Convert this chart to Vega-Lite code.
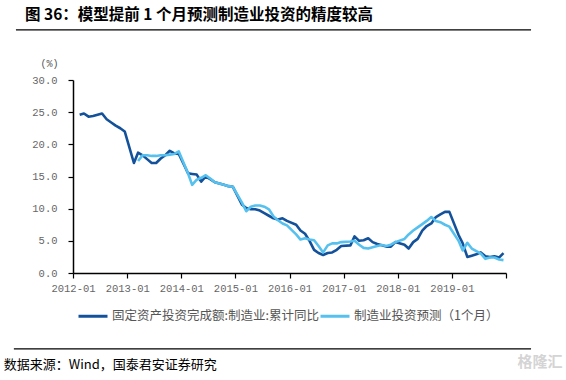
{
  "$schema": "https://vega.github.io/schema/vega-lite/v6.json",
  "width": 433,
  "height": 193,
  "autosize": {"type": "none"},
  "padding": {"left": 73, "top": 80, "right": 60, "bottom": 107},
  "background": "white",
  "title": {
    "text": "图 36：模型提前 1 个月预测制造业投资的精度较高",
    "anchor": "start",
    "frame": "group",
    "dx": -48,
    "offset": 6,
    "font": "Noto Sans CJK SC",
    "fontSize": 15.5,
    "fontWeight": "bold",
    "color": "#000000"
  },
  "config": {"view": {"stroke": null}},
  "resolve": {"axis": {"x": "independent", "y": "independent"}},
  "datasets": {
    "fai": [
      {"month": "2012-02-15", "series": "固定资产投资完成额:制造业:累计同比", "value": 24.6},
      {"month": "2012-03-15", "series": "固定资产投资完成额:制造业:累计同比", "value": 24.8},
      {"month": "2012-04-15", "series": "固定资产投资完成额:制造业:累计同比", "value": 24.3},
      {"month": "2012-05-15", "series": "固定资产投资完成额:制造业:累计同比", "value": 24.4},
      {"month": "2012-06-15", "series": "固定资产投资完成额:制造业:累计同比", "value": 24.6},
      {"month": "2012-07-15", "series": "固定资产投资完成额:制造业:累计同比", "value": 24.8},
      {"month": "2012-08-15", "series": "固定资产投资完成额:制造业:累计同比", "value": 23.9},
      {"month": "2012-09-15", "series": "固定资产投资完成额:制造业:累计同比", "value": 23.4},
      {"month": "2012-10-15", "series": "固定资产投资完成额:制造业:累计同比", "value": 22.9},
      {"month": "2012-11-15", "series": "固定资产投资完成额:制造业:累计同比", "value": 22.5},
      {"month": "2012-12-15", "series": "固定资产投资完成额:制造业:累计同比", "value": 22.0},
      {"month": "2013-02-15", "series": "固定资产投资完成额:制造业:累计同比", "value": 17.1},
      {"month": "2013-03-15", "series": "固定资产投资完成额:制造业:累计同比", "value": 18.7},
      {"month": "2013-04-15", "series": "固定资产投资完成额:制造业:累计同比", "value": 18.3},
      {"month": "2013-05-15", "series": "固定资产投资完成额:制造业:累计同比", "value": 17.7},
      {"month": "2013-06-15", "series": "固定资产投资完成额:制造业:累计同比", "value": 17.1},
      {"month": "2013-07-15", "series": "固定资产投资完成额:制造业:累计同比", "value": 17.1},
      {"month": "2013-08-15", "series": "固定资产投资完成额:制造业:累计同比", "value": 17.8},
      {"month": "2013-09-15", "series": "固定资产投资完成额:制造业:累计同比", "value": 18.3},
      {"month": "2013-10-15", "series": "固定资产投资完成额:制造业:累计同比", "value": 19.0},
      {"month": "2013-11-15", "series": "固定资产投资完成额:制造业:累计同比", "value": 18.6},
      {"month": "2013-12-15", "series": "固定资产投资完成额:制造业:累计同比", "value": 18.5},
      {"month": "2014-02-15", "series": "固定资产投资完成额:制造业:累计同比", "value": 15.5},
      {"month": "2014-03-15", "series": "固定资产投资完成额:制造业:累计同比", "value": 15.4},
      {"month": "2014-04-15", "series": "固定资产投资完成额:制造业:累计同比", "value": 15.3},
      {"month": "2014-05-15", "series": "固定资产投资完成额:制造业:累计同比", "value": 14.2},
      {"month": "2014-06-15", "series": "固定资产投资完成额:制造业:累计同比", "value": 15.0},
      {"month": "2014-07-15", "series": "固定资产投资完成额:制造业:累计同比", "value": 14.6},
      {"month": "2014-08-15", "series": "固定资产投资完成额:制造业:累计同比", "value": 14.1},
      {"month": "2014-09-15", "series": "固定资产投资完成额:制造业:累计同比", "value": 13.9},
      {"month": "2014-10-15", "series": "固定资产投资完成额:制造业:累计同比", "value": 13.7},
      {"month": "2014-11-15", "series": "固定资产投资完成额:制造业:累计同比", "value": 13.5},
      {"month": "2014-12-15", "series": "固定资产投资完成额:制造业:累计同比", "value": 13.4},
      {"month": "2015-02-15", "series": "固定资产投资完成额:制造业:累计同比", "value": 10.6},
      {"month": "2015-03-15", "series": "固定资产投资完成额:制造业:累计同比", "value": 10.1},
      {"month": "2015-04-15", "series": "固定资产投资完成额:制造业:累计同比", "value": 9.9},
      {"month": "2015-05-15", "series": "固定资产投资完成额:制造业:累计同比", "value": 9.9},
      {"month": "2015-06-15", "series": "固定资产投资完成额:制造业:累计同比", "value": 9.7},
      {"month": "2015-07-15", "series": "固定资产投资完成额:制造业:累计同比", "value": 9.3},
      {"month": "2015-08-15", "series": "固定资产投资完成额:制造业:累计同比", "value": 8.9},
      {"month": "2015-09-15", "series": "固定资产投资完成额:制造业:累计同比", "value": 8.5},
      {"month": "2015-10-15", "series": "固定资产投资完成额:制造业:累计同比", "value": 8.3},
      {"month": "2015-11-15", "series": "固定资产投资完成额:制造业:累计同比", "value": 8.5},
      {"month": "2015-12-15", "series": "固定资产投资完成额:制造业:累计同比", "value": 8.1},
      {"month": "2016-02-15", "series": "固定资产投资完成额:制造业:累计同比", "value": 7.5},
      {"month": "2016-03-15", "series": "固定资产投资完成额:制造业:累计同比", "value": 6.6},
      {"month": "2016-04-15", "series": "固定资产投资完成额:制造业:累计同比", "value": 6.1},
      {"month": "2016-05-15", "series": "固定资产投资完成额:制造业:累计同比", "value": 5.0},
      {"month": "2016-06-15", "series": "固定资产投资完成额:制造业:累计同比", "value": 3.6},
      {"month": "2016-07-15", "series": "固定资产投资完成额:制造业:累计同比", "value": 3.1},
      {"month": "2016-08-15", "series": "固定资产投资完成额:制造业:累计同比", "value": 2.8},
      {"month": "2016-09-15", "series": "固定资产投资完成额:制造业:累计同比", "value": 3.1},
      {"month": "2016-10-15", "series": "固定资产投资完成额:制造业:累计同比", "value": 3.2},
      {"month": "2016-11-15", "series": "固定资产投资完成额:制造业:累计同比", "value": 3.6},
      {"month": "2016-12-15", "series": "固定资产投资完成额:制造业:累计同比", "value": 4.2},
      {"month": "2017-02-15", "series": "固定资产投资完成额:制造业:累计同比", "value": 4.3},
      {"month": "2017-03-15", "series": "固定资产投资完成额:制造业:累计同比", "value": 5.7},
      {"month": "2017-04-15", "series": "固定资产投资完成额:制造业:累计同比", "value": 5.0},
      {"month": "2017-05-15", "series": "固定资产投资完成额:制造业:累计同比", "value": 5.1},
      {"month": "2017-06-15", "series": "固定资产投资完成额:制造业:累计同比", "value": 5.4},
      {"month": "2017-07-15", "series": "固定资产投资完成额:制造业:累计同比", "value": 4.8},
      {"month": "2017-08-15", "series": "固定资产投资完成额:制造业:累计同比", "value": 4.5},
      {"month": "2017-09-15", "series": "固定资产投资完成额:制造业:累计同比", "value": 4.3},
      {"month": "2017-10-15", "series": "固定资产投资完成额:制造业:累计同比", "value": 4.1},
      {"month": "2017-11-15", "series": "固定资产投资完成额:制造业:累计同比", "value": 4.1},
      {"month": "2017-12-15", "series": "固定资产投资完成额:制造业:累计同比", "value": 4.8},
      {"month": "2018-02-15", "series": "固定资产投资完成额:制造业:累计同比", "value": 4.4},
      {"month": "2018-03-15", "series": "固定资产投资完成额:制造业:累计同比", "value": 3.8},
      {"month": "2018-04-15", "series": "固定资产投资完成额:制造业:累计同比", "value": 4.8},
      {"month": "2018-05-15", "series": "固定资产投资完成额:制造业:累计同比", "value": 5.3},
      {"month": "2018-06-15", "series": "固定资产投资完成额:制造业:累计同比", "value": 6.6},
      {"month": "2018-07-15", "series": "固定资产投资完成额:制造业:累计同比", "value": 7.3},
      {"month": "2018-08-15", "series": "固定资产投资完成额:制造业:累计同比", "value": 7.7},
      {"month": "2018-09-15", "series": "固定资产投资完成额:制造业:累计同比", "value": 8.7},
      {"month": "2018-10-15", "series": "固定资产投资完成额:制造业:累计同比", "value": 9.1},
      {"month": "2018-11-15", "series": "固定资产投资完成额:制造业:累计同比", "value": 9.5},
      {"month": "2018-12-15", "series": "固定资产投资完成额:制造业:累计同比", "value": 9.5},
      {"month": "2019-02-15", "series": "固定资产投资完成额:制造业:累计同比", "value": 5.9},
      {"month": "2019-03-15", "series": "固定资产投资完成额:制造业:累计同比", "value": 4.6},
      {"month": "2019-04-15", "series": "固定资产投资完成额:制造业:累计同比", "value": 2.5},
      {"month": "2019-05-15", "series": "固定资产投资完成额:制造业:累计同比", "value": 2.7},
      {"month": "2019-06-15", "series": "固定资产投资完成额:制造业:累计同比", "value": 2.9},
      {"month": "2019-07-15", "series": "固定资产投资完成额:制造业:累计同比", "value": 3.2},
      {"month": "2019-08-15", "series": "固定资产投资完成额:制造业:累计同比", "value": 2.6},
      {"month": "2019-09-15", "series": "固定资产投资完成额:制造业:累计同比", "value": 2.5},
      {"month": "2019-10-15", "series": "固定资产投资完成额:制造业:累计同比", "value": 2.6},
      {"month": "2019-11-15", "series": "固定资产投资完成额:制造业:累计同比", "value": 2.4},
      {"month": "2019-12-15", "series": "固定资产投资完成额:制造业:累计同比", "value": 3.1},
      {"month": "2013-03-15", "series": "制造业投资预测（1个月）", "value": 17.4},
      {"month": "2013-04-15", "series": "制造业投资预测（1个月）", "value": 18.3},
      {"month": "2013-05-15", "series": "制造业投资预测（1个月）", "value": 18.3},
      {"month": "2013-06-15", "series": "制造业投资预测（1个月）", "value": 18.2},
      {"month": "2013-07-15", "series": "制造业投资预测（1个月）", "value": 18.2},
      {"month": "2013-08-15", "series": "制造业投资预测（1个月）", "value": 18.3},
      {"month": "2013-09-15", "series": "制造业投资预测（1个月）", "value": 18.3},
      {"month": "2013-10-15", "series": "制造业投资预测（1个月）", "value": 18.4},
      {"month": "2013-11-15", "series": "制造业投资预测（1个月）", "value": 18.5},
      {"month": "2013-12-15", "series": "制造业投资预测（1个月）", "value": 18.9},
      {"month": "2014-02-15", "series": "制造业投资预测（1个月）", "value": 15.5},
      {"month": "2014-03-15", "series": "制造业投资预测（1个月）", "value": 13.7},
      {"month": "2014-04-15", "series": "制造业投资预测（1个月）", "value": 14.5},
      {"month": "2014-05-15", "series": "制造业投资预测（1个月）", "value": 14.8},
      {"month": "2014-06-15", "series": "制造业投资预测（1个月）", "value": 15.2},
      {"month": "2014-07-15", "series": "制造业投资预测（1个月）", "value": 14.7},
      {"month": "2014-08-15", "series": "制造业投资预测（1个月）", "value": 14.1},
      {"month": "2014-09-15", "series": "制造业投资预测（1个月）", "value": 13.9},
      {"month": "2014-10-15", "series": "制造业投资预测（1个月）", "value": 13.7},
      {"month": "2014-11-15", "series": "制造业投资预测（1个月）", "value": 13.5},
      {"month": "2014-12-15", "series": "制造业投资预测（1个月）", "value": 13.4},
      {"month": "2015-02-15", "series": "制造业投资预测（1个月）", "value": 10.9},
      {"month": "2015-03-15", "series": "制造业投资预测（1个月）", "value": 9.6},
      {"month": "2015-04-15", "series": "制造业投资预测（1个月）", "value": 10.3},
      {"month": "2015-05-15", "series": "制造业投资预测（1个月）", "value": 10.5},
      {"month": "2015-06-15", "series": "制造业投资预测（1个月）", "value": 10.5},
      {"month": "2015-07-15", "series": "制造业投资预测（1个月）", "value": 10.3},
      {"month": "2015-08-15", "series": "制造业投资预测（1个月）", "value": 9.9},
      {"month": "2015-09-15", "series": "制造业投资预测（1个月）", "value": 8.8},
      {"month": "2015-10-15", "series": "制造业投资预测（1个月）", "value": 8.2},
      {"month": "2015-11-15", "series": "制造业投资预测（1个月）", "value": 7.7},
      {"month": "2015-12-15", "series": "制造业投资预测（1个月）", "value": 7.4},
      {"month": "2016-02-15", "series": "制造业投资预测（1个月）", "value": 6.0},
      {"month": "2016-03-15", "series": "制造业投资预测（1个月）", "value": 5.2},
      {"month": "2016-04-15", "series": "制造业投资预测（1个月）", "value": 5.4},
      {"month": "2016-05-15", "series": "制造业投资预测（1个月）", "value": 5.2},
      {"month": "2016-06-15", "series": "制造业投资预测（1个月）", "value": 5.1},
      {"month": "2016-07-15", "series": "制造业投资预测（1个月）", "value": 4.2},
      {"month": "2016-08-15", "series": "制造业投资预测（1个月）", "value": 3.2},
      {"month": "2016-09-15", "series": "制造业投资预测（1个月）", "value": 4.3},
      {"month": "2016-10-15", "series": "制造业投资预测（1个月）", "value": 4.6},
      {"month": "2016-11-15", "series": "制造业投资预测（1个月）", "value": 4.6},
      {"month": "2016-12-15", "series": "制造业投资预测（1个月）", "value": 4.8},
      {"month": "2017-02-15", "series": "制造业投资预测（1个月）", "value": 4.9},
      {"month": "2017-03-15", "series": "制造业投资预测（1个月）", "value": 5.0},
      {"month": "2017-04-15", "series": "制造业投资预测（1个月）", "value": 4.4},
      {"month": "2017-05-15", "series": "制造业投资预测（1个月）", "value": 3.9},
      {"month": "2017-06-15", "series": "制造业投资预测（1个月）", "value": 3.8},
      {"month": "2017-07-15", "series": "制造业投资预测（1个月）", "value": 4.0},
      {"month": "2017-08-15", "series": "制造业投资预测（1个月）", "value": 4.2},
      {"month": "2017-09-15", "series": "制造业投资预测（1个月）", "value": 4.35},
      {"month": "2017-10-15", "series": "制造业投资预测（1个月）", "value": 4.2},
      {"month": "2017-11-15", "series": "制造业投资预测（1个月）", "value": 4.4},
      {"month": "2017-12-15", "series": "制造业投资预测（1个月）", "value": 4.8},
      {"month": "2018-02-15", "series": "制造业投资预测（1个月）", "value": 5.3},
      {"month": "2018-03-15", "series": "制造业投资预测（1个月）", "value": 6.0},
      {"month": "2018-04-15", "series": "制造业投资预测（1个月）", "value": 6.6},
      {"month": "2018-05-15", "series": "制造业投资预测（1个月）", "value": 7.1},
      {"month": "2018-06-15", "series": "制造业投资预测（1个月）", "value": 7.6},
      {"month": "2018-07-15", "series": "制造业投资预测（1个月）", "value": 8.1},
      {"month": "2018-08-15", "series": "制造业投资预测（1个月）", "value": 8.7},
      {"month": "2018-09-15", "series": "制造业投资预测（1个月）", "value": 8.1},
      {"month": "2018-10-15", "series": "制造业投资预测（1个月）", "value": 7.9},
      {"month": "2018-11-15", "series": "制造业投资预测（1个月）", "value": 7.5},
      {"month": "2018-12-15", "series": "制造业投资预测（1个月）", "value": 7.2},
      {"month": "2019-02-15", "series": "制造业投资预测（1个月）", "value": 5.0},
      {"month": "2019-03-15", "series": "制造业投资预测（1个月）", "value": 3.5},
      {"month": "2019-04-15", "series": "制造业投资预测（1个月）", "value": 4.7},
      {"month": "2019-05-15", "series": "制造业投资预测（1个月）", "value": 3.8},
      {"month": "2019-06-15", "series": "制造业投资预测（1个月）", "value": 3.4},
      {"month": "2019-07-15", "series": "制造业投资预测（1个月）", "value": 3.0},
      {"month": "2019-08-15", "series": "制造业投资预测（1个月）", "value": 2.2},
      {"month": "2019-09-15", "series": "制造业投资预测（1个月）", "value": 2.4},
      {"month": "2019-10-15", "series": "制造业投资预测（1个月）", "value": 2.4},
      {"month": "2019-11-15", "series": "制造业投资预测（1个月）", "value": 2.1},
      {"month": "2019-12-15", "series": "制造业投资预测（1个月）", "value": 2.0}
    ]
  },
  "layer": [
    {
      "data": {"name": "fai"},
      "mark": {"type": "line", "strokeWidth": 2.6, "strokeJoin": "round"},
      "encoding": {
        "x": {
          "field": "month",
          "type": "temporal",
          "scale": {"domain": [{"year": 2012, "month": 1, "date": 1}, {"year": 2020, "month": 1, "date": 1}], "nice": false},
          "axis": {
            "title": null,
            "values": [
              {"year": 2012, "month": 1, "date": 1}, {"year": 2013, "month": 1, "date": 1},
              {"year": 2014, "month": 1, "date": 1}, {"year": 2015, "month": 1, "date": 1},
              {"year": 2016, "month": 1, "date": 1}, {"year": 2017, "month": 1, "date": 1},
              {"year": 2018, "month": 1, "date": 1}, {"year": 2019, "month": 1, "date": 1},
              {"year": 2020, "month": 1, "date": 1}
            ],
            "format": "%Y-%m",
            "labelExpr": "datum.label == '2020-01' ? '' : datum.label",
            "grid": false,
            "domainColor": "#000000",
            "domainWidth": 1.5,
            "tickColor": "#000000",
            "tickWidth": 1.2,
            "tickSize": 5,
            "labelFont": "Liberation Mono",
            "labelFontSize": 10.5,
            "labelColor": "#666666",
            "labelPadding": 5,
            "labelFlush": false,
            "labelOverlap": false
          }
        },
        "y": {
          "field": "value",
          "type": "quantitative",
          "scale": {"domain": [0, 30], "nice": false, "zero": true},
          "axis": {
            "title": "(%)",
            "titleAngle": 0,
            "titleX": -24,
            "titleY": -17,
            "titleAlign": "center",
            "titleBaseline": "middle",
            "titleFont": "Liberation Mono",
            "titleFontSize": 10,
            "titleFontWeight": "normal",
            "titleColor": "#555555",
            "values": [0, 5, 10, 15, 20, 25, 30],
            "format": ".1f",
            "grid": false,
            "domainColor": "#000000",
            "domainWidth": 1.5,
            "tickColor": "#000000",
            "tickWidth": 1.2,
            "tickSize": 5,
            "labelFont": "Liberation Mono",
            "labelFontSize": 10.5,
            "labelColor": "#666666",
            "labelPadding": 11,
            "labelOverlap": false,
            "labelFlush": false
          }
        },
        "color": {
          "field": "series",
          "type": "nominal",
          "scale": {
            "domain": ["固定资产投资完成额:制造业:累计同比", "制造业投资预测（1个月）"],
            "range": ["#14519b", "#56c1ee"]
          },
          "legend": {
            "title": null,
            "orient": "none",
            "legendX": 4,
            "legendY": 220,
            "direction": "horizontal",
            "symbolType": "stroke",
            "symbolSize": 841,
            "symbolStrokeWidth": 3,
            "labelFont": "Noto Sans CJK SC",
            "labelFontSize": 12.5,
            "labelColor": "#555555",
            "labelOffset": 3,
            "labelLimit": 400,
            "columnPadding": -6
          }
        }
      }
    },
    {
      "data": {"values": [{}]},
      "mark": {"type": "rule", "color": "#000000", "strokeWidth": 1.2},
      "encoding": {
        "x": {"datum": {"year": 2010, "month": 12, "date": 12}, "type": "temporal", "axis": null},
        "x2": {"datum": {"year": 2020, "month": 6, "date": 18}},
        "y": {"datum": 37.8, "type": "quantitative", "axis": null}
      }
    },
    {
      "data": {"values": [{}]},
      "mark": {"type": "rule", "color": "#000000", "strokeWidth": 1.2},
      "encoding": {
        "x": {"datum": {"year": 2010, "month": 11, "date": 28}, "type": "temporal", "axis": null},
        "x2": {"datum": {"year": 2020, "month": 6, "date": 18}},
        "y": {"datum": -11.8, "type": "quantitative", "axis": null}
      }
    },
    {
      "data": {"values": [{}]},
      "mark": {"type": "text", "align": "left", "baseline": "middle", "font": "Noto Sans CJK SC", "fontSize": 13, "color": "#000000", "text": "数据来源：Wind，国泰君安证券研究"},
      "encoding": {
        "x": {"datum": {"year": 2010, "month": 9, "date": 21}, "type": "temporal", "axis": null},
        "y": {"datum": -14.3, "type": "quantitative", "axis": null}
      }
    },
    {
      "data": {"values": [{}]},
      "mark": {"type": "text", "align": "center", "baseline": "middle", "font": "Noto Sans CJK SC", "fontSize": 15, "fontWeight": "bold", "color": "#d4d4d4", "text": "格隆汇"},
      "encoding": {
        "x": {"datum": {"year": 2020, "month": 8, "date": 18}, "type": "temporal", "axis": null},
        "y": {"datum": -13.8, "type": "quantitative", "axis": null}
      }
    }
  ]
}
